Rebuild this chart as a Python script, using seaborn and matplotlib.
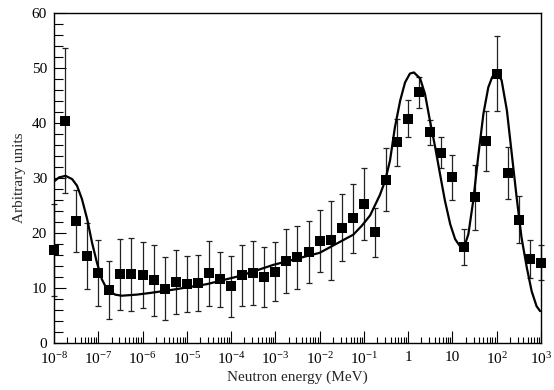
import numpy as np
import pandas as pd
import matplotlib
matplotlib.use("Agg")
import matplotlib.pyplot as plt
from matplotlib.ticker import FixedLocator, FixedFormatter, LogLocator, NullFormatter, MultipleLocator
import seaborn as sns

# measured points: log10(E / MeV), value, error
point_exp = [-8, -7.75, -7.5, -7.25, -7, -6.75, -6.5, -6.25, -6, -5.75, -5.5, -5.25,
             -5, -4.75, -4.5, -4.25, -4, -3.75, -3.5, -3.25, -3, -2.75, -2.5, -2.25,
             -2, -1.75, -1.5, -1.25, -1, -0.75, -0.5, -0.25, 0, 0.25, 0.5, 0.75,
             1, 1.25, 1.5, 1.75, 2, 2.25, 2.5, 2.75, 3]
point_val = [16.9, 40.4, 22.2, 15.9, 12.8, 9.7, 12.5, 12.5, 12.3, 11.4, 9.9, 11.1,
             10.8, 10.9, 12.7, 11.6, 10.3, 12.3, 12.7, 12.0, 13.0, 14.9, 15.6, 16.6,
             18.6, 18.7, 21.0, 22.7, 25.3, 20.1, 29.7, 36.5, 40.8, 45.6, 38.3, 34.6,
             30.1, 17.5, 26.5, 36.7, 49.0, 30.9, 22.4, 15.3, 14.6]
point_err = [8.3, 13.2, 5.7, 6.0, 6.0, 5.3, 6.5, 6.6, 6.0, 6.5, 5.8, 5.8,
             5.1, 5.1, 5.9, 5.0, 5.6, 5.6, 5.8, 5.5, 5.3, 5.8, 5.7, 5.6,
             5.6, 7.2, 6.1, 6.3, 6.5, 4.4, 5.7, 4.3, 3.3, 2.8, 2.3, 2.8,
             4.1, 3.3, 5.9, 5.5, 6.8, 4.8, 4.3, 3.5, 3.2]

# model curve
curve_exp = [-7.98, -7.89, -7.74, -7.59, -7.48, -7.37, -7.25, -7.14, -7.03, -6.92,
             -6.80, -6.62, -6.47, -6.13, -5.83, -5.31, -4.55, -3.80, -3.05, -2.29,
             -2.0, -1.54, -1.24, -1.05, -0.86, -0.64, -0.52, -0.41, -0.30, -0.18,
             -0.07, 0.04, 0.13, 0.27, 0.38, 0.49, 0.61, 0.72, 0.83, 0.95, 1.06,
             1.17, 1.26, 1.36, 1.47, 1.58, 1.70, 1.81, 1.90, 2.0, 2.11, 2.23,
             2.34, 2.45, 2.56, 2.68, 2.79, 2.90, 2.98]
curve_val = [29.5, 30.1, 30.4, 29.8, 28.6, 26.2, 22.5, 18.2, 14.6, 11.6,
             9.7, 8.8, 8.6, 8.8, 9.1, 9.7, 10.7, 12.2, 14.2, 15.8,
             16.4, 18.4, 19.7, 21.3, 23.2, 26.9, 29.5, 33.2, 39.2, 44.1,
             47.4, 49.0, 49.2, 48.1, 45.3, 40.5, 35.6, 30.7, 25.9, 21.6, 18.9,
             17.6, 17.3, 19.8, 25.9, 33.8, 41.7, 46.5, 48.4, 49.1, 47.8, 42.3,
             34.4, 26.5, 19.2, 13.7, 9.4, 6.7, 5.8]

xtick_exp = list(range(-8, 4))
xtick_labels = ["$10^{-8}$", "$10^{-7}$", "$10^{-6}$", "$10^{-5}$", "$10^{-4}$", "$10^{-3}$",
                "$10^{-2}$", "$10^{-1}$", "1", "10", "$10^{2}$", "$10^{3}$"]

pts = pd.DataFrame({"E": np.power(10.0, point_exp), "val": point_val, "err": point_err})
curve = pd.DataFrame({"E": np.power(10.0, curve_exp), "val": curve_val})

sns.set_style("ticks")
plt.rcParams["font.family"] = ["Liberation Serif", "DejaVu Serif"]
plt.rcParams["mathtext.fontset"] = "custom"
plt.rcParams["mathtext.rm"] = "Liberation Serif"
plt.rcParams["mathtext.it"] = "Liberation Serif:italic"

fig = plt.figure(figsize=(5.54, 3.9), dpi=100)
ax = fig.add_axes([0.0975, 0.1205, 0.879, 0.846])

ax.errorbar(pts["E"], pts["val"], yerr=pts["err"], fmt="none", ecolor="#222222",
            elinewidth=0.9, capsize=2, capthick=0.9, zorder=2, clip_on=False)
sns.scatterplot(data=pts, x="E", y="val", marker="s", s=42, color="black",
                edgecolor="black", linewidth=0, ax=ax, zorder=3, clip_on=False)
sns.lineplot(data=curve, x="E", y="val", color="black", linewidth=1.6, ax=ax,
             sort=False, zorder=4)

ax.set_xscale("log")
ax.set_xlim(1e-8, 1e3)
ax.set_ylim(0, 60)
ax.xaxis.set_major_locator(FixedLocator(np.power(10.0, xtick_exp)))
ax.xaxis.set_major_formatter(FixedFormatter(xtick_labels))
ax.xaxis.set_minor_locator(LogLocator(base=10, subs=np.arange(2, 10), numticks=50))
ax.xaxis.set_minor_formatter(NullFormatter())
ax.yaxis.set_major_locator(MultipleLocator(10))
ax.yaxis.set_minor_locator(MultipleLocator(2))

ax.tick_params(axis="both", which="both", direction="in", top=False, right=False,
               colors="black", labelsize=11, width=0.8)
ax.tick_params(axis="x", which="major", length=9, pad=6)
ax.tick_params(axis="x", which="minor", length=4.5)
ax.tick_params(axis="y", which="major", length=8.5, pad=5)
ax.tick_params(axis="y", which="minor", length=6.5)
for side in ["top", "right", "bottom", "left"]:
    ax.spines[side].set_visible(True)
    ax.spines[side].set_linewidth(1.0)
    ax.spines[side].set_color("black")

ax.set_xlabel("Neutron energy (MeV)", fontsize=11, labelpad=2)
ax.set_ylabel("Arbitrary units", fontsize=11, labelpad=4)

fig.savefig("out.png", dpi=100)
